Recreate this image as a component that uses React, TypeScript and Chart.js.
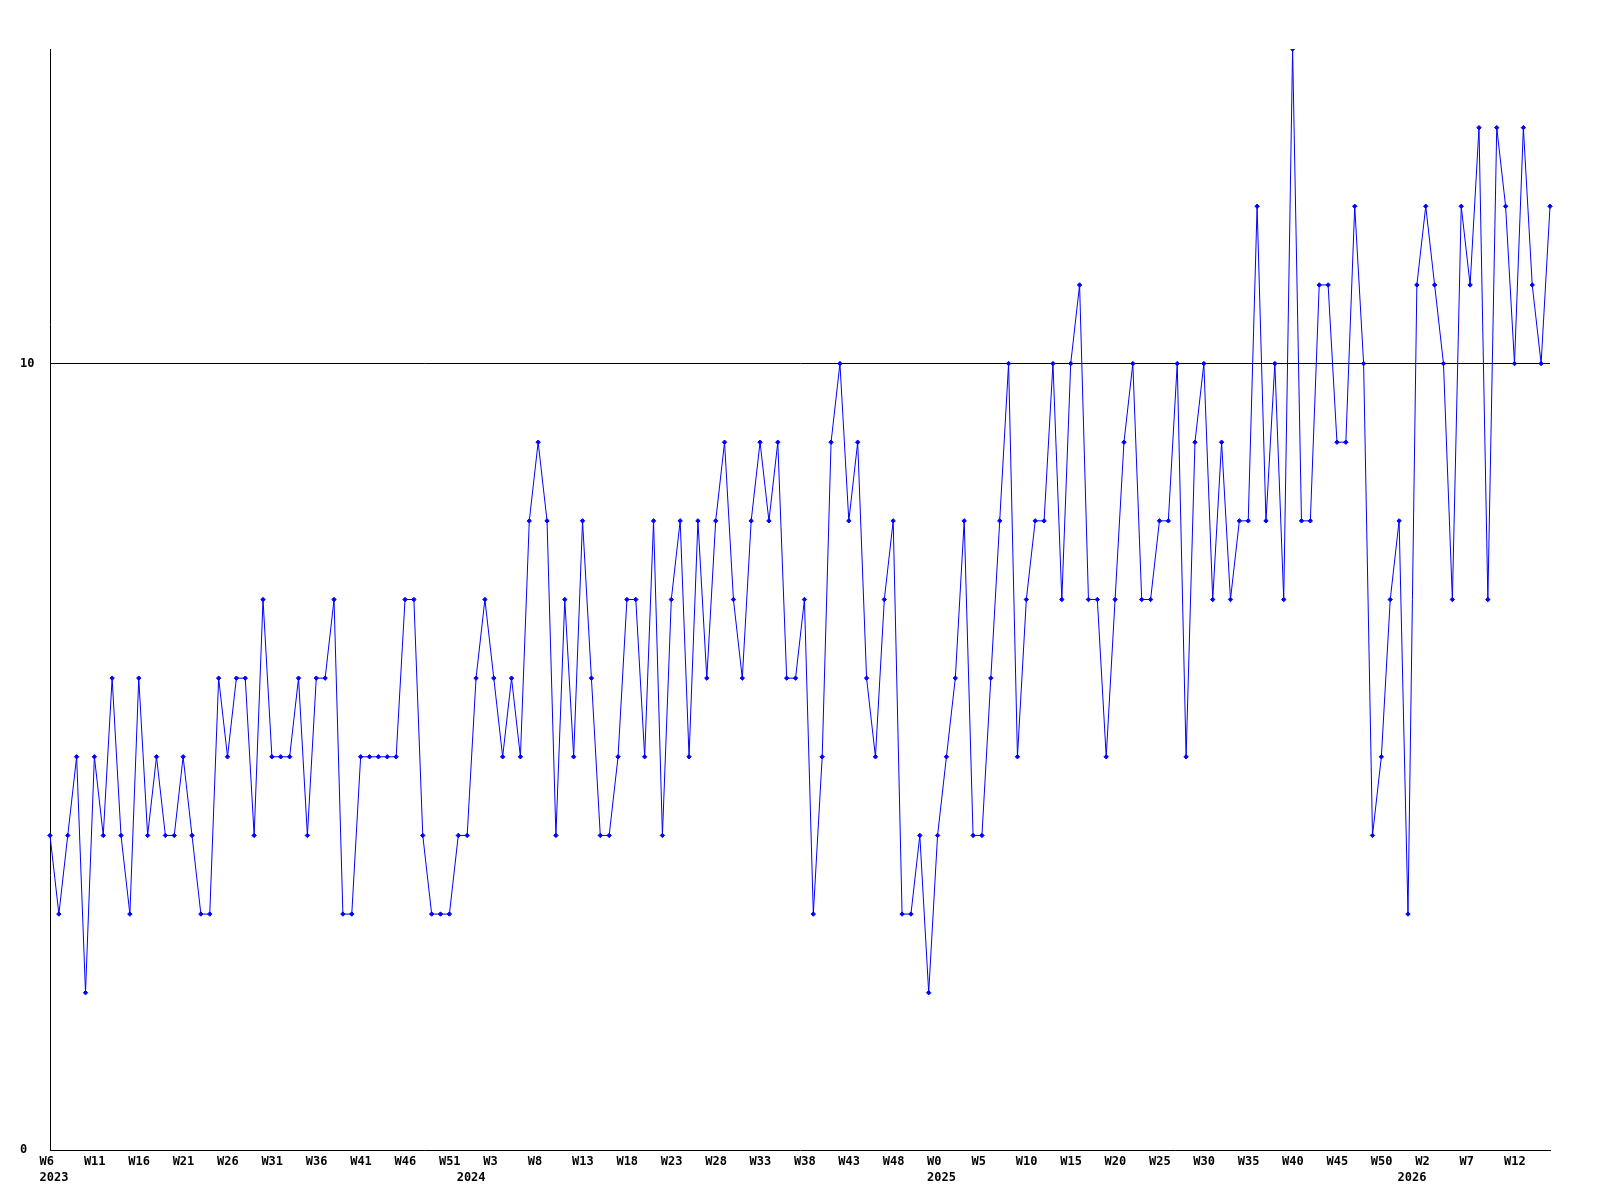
import React, { useEffect, useRef } from "react";
import { Chart, registerables } from "chart.js";

Chart.register(...registerables);

// Week ranges covered by the series (one point per week)
const years = [2023, 2024, 2025, 2026];
const firstWeek = [6, 0, 0, 0];
const lastWeek = [52, 52, 52, 16];

// Weekly values
const counts = [
  4, 3, 4, 5, 2, 5, 4, 6, 4, 3,
  6, 4, 5, 4, 4, 5, 4, 3, 3, 6,
  5, 6, 6, 4, 7, 5, 5, 5, 6, 4,
  6, 6, 7, 3, 3, 5, 5, 5, 5, 5,
  7, 7, 4, 3, 3, 3, 4, 4, 6, 7,
  6, 5, 6, 5, 8, 9, 8, 4, 7, 5,
  8, 6, 4, 4, 5, 7, 7, 5, 8, 4,
  7, 8, 5, 8, 6, 8, 9, 7, 6, 8,
  9, 8, 9, 6, 6, 7, 3, 5, 9, 10,
  8, 9, 6, 5, 7, 8, 3, 3, 4, 2,
  4, 5, 6, 8, 4, 4, 6, 8, 10, 5,
  7, 8, 8, 10, 7, 10, 11, 7, 7, 5,
  7, 9, 10, 7, 7, 8, 8, 10, 5, 9,
  10, 7, 9, 7, 8, 8, 12, 8, 10, 7,
  14, 8, 8, 11, 11, 9, 9, 12, 10, 4,
  5, 7, 8, 3, 11, 12, 11, 10, 7, 12,
  11, 13, 7, 13, 12, 10, 13, 11, 10, 12,
];

const yTickValues = [0, 10];
const yMin = 0;
const yMax = 14;
const weekLabelEvery = 5;

type Cat = { year: number; week: number };
const categories: Cat[] = [];
years.forEach((y, i) => {
  for (let w = firstWeek[i]; w <= lastWeek[i]; w++) categories.push({ year: y, week: w });
});
const labels = categories.map((c) => `W${c.week} ${c.year}`);

const FONT = {
  family: "'DejaVu Sans Mono', monospace",
  size: 12,
  weight: "bold" as const,
  lineHeight: 16 / 12,
};

export default function App() {
  const ref = useRef<HTMLCanvasElement | null>(null);

  useEffect(() => {
    if (!ref.current) return;
    const chart = new Chart(ref.current, {
      type: "line",
      data: {
        labels,
        datasets: [
          {
            data: counts,
            borderColor: "#0000ff",
            borderWidth: 1,
            backgroundColor: "#0000ff",
            pointStyle: "rectRot",
            pointRadius: 2.2,
            pointBorderWidth: 1,
            pointBackgroundColor: "#0000ff",
            pointBorderColor: "#0000ff",
            tension: 0,
            fill: false,
          },
        ],
      },
      options: {
        animation: false,
        responsive: false,
        devicePixelRatio: 1,
        layout: { padding: { top: 49, right: 50, left: 20, bottom: 0 } },
        plugins: {
          legend: { display: false },
          tooltip: { enabled: false },
        },
        scales: {
          x: {
            type: "category",
            offset: false,
            grid: { display: false, drawTicks: false },
            border: { display: true, color: "#000000", width: 1 },
            ticks: {
              autoSkip: false,
              maxRotation: 0,
              minRotation: 0,
              padding: 4,
              align: "start",
              labelOffset: -10.5,
              color: "#000000",
              font: FONT,
              callback: (_v: any, index: number) => {
                const c = categories[index];
                if (!c) return "";
                const firstOfYear = index === 0 || categories[index - 1].year !== c.year;
                const showWeek = index % weekLabelEvery === 0;
                if (showWeek && firstOfYear) return [`W${c.week}`, String(c.year)];
                if (showWeek) return `W${c.week}`;
                if (firstOfYear) return ["", String(c.year)];
                return "";
              },
            },
            afterFit: (scale: any) => {
              scale.height = 50;
            },
          },
          y: {
            min: yMin,
            max: yMax,
            grid: {
              drawTicks: false,
              color: (ctx: any) => (ctx.tick && ctx.tick.value === 10 ? "#000000" : "rgba(0,0,0,0)"),
              lineWidth: 1,
            },
            border: { display: true, color: "#000000", width: 1 },
            ticks: {
              padding: 16,
              crossAlign: "far",
              color: "#000000",
              font: FONT,
            },
            afterBuildTicks: (scale: any) => {
              scale.ticks = yTickValues.map((v) => ({ value: v }));
            },
            afterFit: (scale: any) => {
              scale.width = 30;
            },
          },
        },
      },
    });
    return () => chart.destroy();
  }, []);

  return (
    <div style={{ position: "absolute", left: 0, top: 0, width: 1600, height: 1200, background: "#ffffff" }}>
      <canvas ref={ref} width={1600} height={1200} style={{ display: "block", width: 1600, height: 1200 }} />
    </div>
  );
}
